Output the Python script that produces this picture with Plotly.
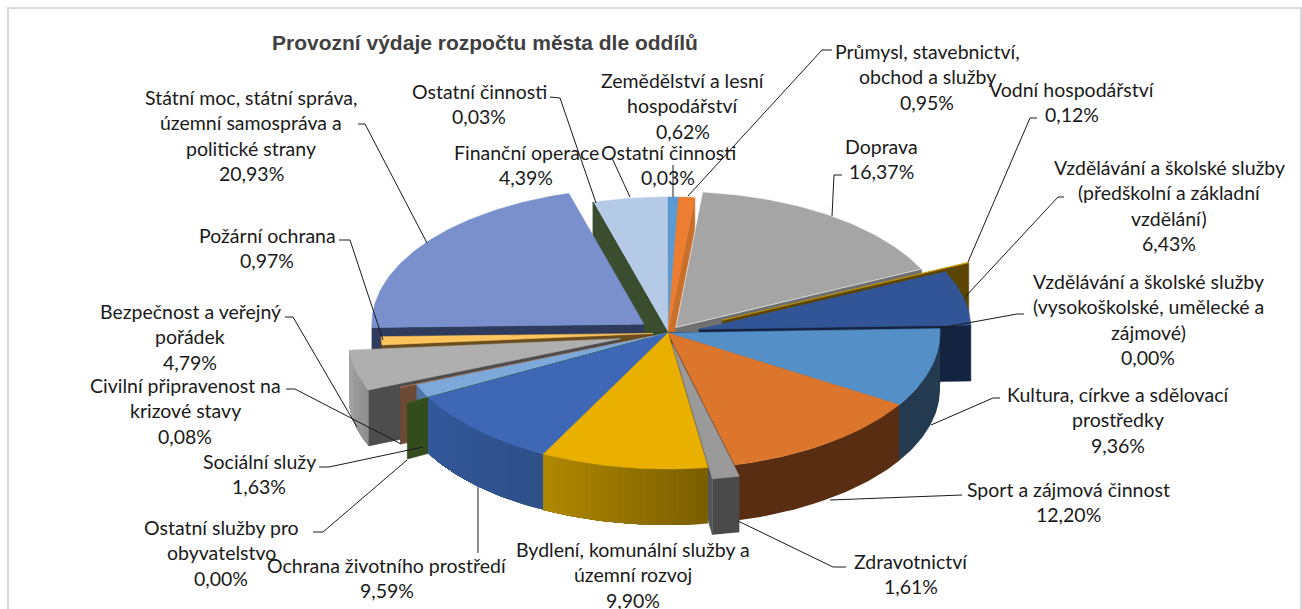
import numpy as np
import plotly.graph_objects as go

TITLE = "Provozní výdaje rozpočtu města dle oddílů"

categories = [
    "Zemědělství a lesní hospodářství", "Průmysl, stavebnictví, obchod a služby", "Doprava",
    "Vodní hospodářství", "Vzdělávání a školské služby (předškolní a základní vzdělání)",
    "Vzdělávání a školské služby (vysokoškolské, umělecké a zájmové)",
    "Kultura, církve a sdělovací prostředky", "Sport a zájmová činnost", "Zdravotnictví",
    "Bydlení, komunální služby a územní rozvoj", "Ochrana životního prostředí",
    "Ostatní služby pro obyvatelstvo", "Sociální služy", "Civilní připravenost na krizové stavy",
    "Bezpečnost a veřejný pořádek", "Požární ochrana",
    "Státní moc, státní správa, územní samospráva a politické strany",
    "Ostatní činnosti A", "Finanční operace", "Ostatní činnosti B",
]
values = [0.62, 0.95, 16.37, 0.12, 6.43, 0.00, 9.36, 12.20, 1.61, 9.90, 9.59,
          0.00, 1.63, 0.08, 4.79, 0.97, 20.93, 0.03, 4.39, 0.03]
pulls = [0, 0, 0.05, 0.22, 0.117, 0, 0, 0, 0.085, 0, 0,
         0.088, 0, 0.063, 0.18, 0.055, 0.11, 0, 0, 0]
top_colors = ["#5B9BD5", "#ED7D31", "#A5A5A5", "#C99A00", "#325597", "#1A2C50", "#5490C7",
              "#DC762C", "#9A9A9A", "#EAB000", "#3E68B6", "#3F6226", "#7CA9DA", "#C0704A",
              "#AFAFAF", "#FFC55C", "#7A90CC", "#3A4D2E", "#B4CAE6", "#8FAADC"]
wall_left = ["#3A6A96", "#A8581F", "#6E6E6E", "#5B4500", "#14233F", "#14233F", "#233A50",
             "#592D12", "#4A4A4A", "#B08800", "#33589A", "#334C1E", "#4E76A5", "#6C4A35",
             "#A6A6A6", "#6B4E1E", "#2F3B5C", "#3A4D2E", "#3A4D2E", "#3A4D2E"]
wall_right = ["#3A6A96", "#A8581F", "#6E6E6E", "#5B4500", "#14233F", "#14233F", "#233A50",
              "#592D12", "#4A4A4A", "#7A5F00", "#2F5088", "#334C1E", "#4E76A5", "#6C4A35",
              "#8E8E8E", "#6B4E1E", "#2F3B5C", "#3A4D2E", "#3A4D2E", "#3A4D2E"]
radial_colors = ["#3A6A96", "#C96F2C", "#707070", "#5B4500", "#14233F", "#14233F", "#233A50",
                 "#592D12", "#555555", "#7A5F00", "#2F5088", "#334C1E", "#4E76A5", "#6C4A35",
                 "#4D4D4D", "#6B4E1E", "#2F3B5C", "#3A4D2E", "#3A4D2E", "#3A4D2E"]
draw_order = [0, 19, 18, 1, 2, 17, 16, 3, 4, 5, 15, 14, 13, 12, 11, 6, 7, 10, 8, 9]

CX, CY, RX, RY, DEPTH = 668, 333, 272, 136, 56

label_lines = [
    ["Státní moc, státní správa,", "územní samospráva a", "politické strany", "20,93%"],
    ["Ostatní činnosti", "0,03%"],
    ["Finanční operace", "4,39%"],
    ["Ostatní činnosti", "0,03%"],
    ["Zemědělství a lesní", "hospodářství", "0,62%"],
    ["Průmysl, stavebnictví,", "obchod a služby", "0,95%"],
    ["Vodní hospodářství", "0,12%"],
    ["Doprava", "16,37%"],
    ["Vzdělávání a školské služby", "(předškolní a základní", "vzdělání)", "6,43%"],
    ["Vzdělávání a školské služby", "(vysokoškolské, umělecké a", "zájmové)", "0,00%"],
    ["Kultura, církve a sdělovací", "prostředky", "9,36%"],
    ["Sport a zájmová činnost", "12,20%"],
    ["Zdravotnictví", "1,61%"],
    ["Bydlení, komunální služby a", "územní rozvoj", "9,90%"],
    ["Ochrana životního prostředí", "9,59%"],
    ["Ostatní služby pro", "obyvatelstvo", "0,00%"],
    ["Sociální služy", "1,63%"],
    ["Civilní připravenost na", "krizové stavy", "0,08%"],
    ["Bezpečnost a veřejný", "pořádek", "4,79%"],
    ["Požární ochrana", "0,97%"],
]
label_x = [251, 479, 526, 668, 683, 927, 1072, 881, 1169, 1148, 1118, 1068, 911, 633, 387, 221, 259, 185, 190, 267]
label_y = [97, 91, 152, 152, 80, 51, 89, 146, 167, 281, 394, 489, 561, 549, 565, 527, 461, 385, 311, 235]
LINE_PITCH = 25.5

leaders = [
    ([358, 365, 427], [124, 124, 243]),
    ([550, 560, 596], [97, 98, 203]),
    ([612, 630], [158, 197]),
    ([673, 673], [165, 197]),
    ([832, 822, 688], [50, 50, 196]),
    ([1037, 1030, 968], [118, 118, 262]),
    ([842, 834, 832], [175, 175, 216]),
    ([1064, 1058, 965], [197, 197, 297]),
    ([1024, 1017, 940], [314, 314, 328]),
    ([1000, 993, 931], [398, 398, 425]),
    ([962, 830], [495, 500]),
    ([846, 833, 738], [567, 567, 521]),
    ([478, 478], [553, 487]),
    ([313, 323, 407], [532, 532, 460]),
    ([319, 329, 423], [467, 467, 447]),
    ([286, 295, 401], [389, 389, 444]),
    ([285, 293, 357], [317, 317, 427]),
    ([339, 350, 383], [240, 240, 340]),
]


def mix(a, b, t):
    ca = [int(a[i:i + 2], 16) for i in (1, 3, 5)]
    cb = [int(b[i:i + 2], 16) for i in (1, 3, 5)]
    return "#%02X%02X%02X" % tuple(round(p + (q - p) * t) for p, q in zip(ca, cb))


def poly(xs, ys, color, line_color=None, width=0.6):
    return go.Scatter(x=list(xs), y=list(ys), mode="lines", fill="toself", fillcolor=color,
                      line=dict(color=line_color or color, width=width),
                      hoverinfo="skip", showlegend=False)


fractions = np.array(values) / sum(values)
edges = np.concatenate([[0], np.cumsum(fractions)]) * 2 * np.pi

fig = go.Figure()
for i in draw_order:
    t1, t2 = edges[i], edges[i + 1]
    mid = (t1 + t2) / 2
    ax = CX + pulls[i] * RX * np.sin(mid)
    ay = CY - pulls[i] * RY * np.cos(mid)
    px = lambda t: ax + RX * np.sin(t)
    py = lambda t: ay - RY * np.cos(t)
    # radial side faces
    if np.sin(t1) < 0:
        fig.add_trace(poly([ax, px(t1), px(t1), ax, ax],
                           [ay, py(t1), py(t1) + DEPTH, ay + DEPTH, ay], radial_colors[i]))
    if np.sin(t2) > 0:
        fig.add_trace(poly([ax, px(t2), px(t2), ax, ax],
                           [ay, py(t2), py(t2) + DEPTH, ay + DEPTH, ay], radial_colors[i]))
    # outer rim, only its front-facing part; each band overlaps the rest so no seams show
    lo, hi = max(t1, np.pi / 2), min(t2, 3 * np.pi / 2)
    if hi > lo:
        bands = 1 if wall_left[i] == wall_right[i] else 30
        for k in range(bands):
            seg = np.linspace(lo + (hi - lo) * k / bands, hi, 40)
            xs = np.concatenate([px(seg), px(seg[::-1]), [px(seg[0])]])
            ys = np.concatenate([py(seg), py(seg[::-1]) + DEPTH, [py(seg[0])]])
            colour = mix(wall_right[i], wall_left[i], k / max(bands - 1, 1))
            fig.add_trace(poly(xs, ys, colour, "rgba(0,0,0,0)", 0))
    # top face
    arc = np.linspace(t1, t2, max(3, int((t2 - t1) * 60)))
    border = "#FFFFFF" if i == 2 else top_colors[i]
    fig.add_trace(poly(np.concatenate([[ax], px(arc), [ax]]),
                       np.concatenate([[ay], py(arc), [ay]]), top_colors[i], border))

for lx, ly in leaders:
    fig.add_trace(go.Scatter(x=lx, y=ly, mode="lines", line=dict(color="#1A1A1A", width=1),
                             hoverinfo="skip", showlegend=False))

for lines, x0, y0 in zip(label_lines, label_x, label_y):
    for n, line in enumerate(lines):
        fig.add_annotation(x=x0, y=y0 + n * LINE_PITCH, text=line, showarrow=False,
                           xanchor="center", yanchor="middle",
                           font=dict(family="Lato", size=19.5, color="#1A1A1A"))

fig.add_annotation(x=485, y=42, text="<b>" + TITLE + "</b>", showarrow=False, xanchor="center",
                   yanchor="middle", font=dict(family="Liberation Sans", size=21, color="#404040"))

fig.add_shape(type="rect", x0=8, y0=8, x1=1301, y1=640, line=dict(color="#D9D9D9", width=2), layer="below")

fig.update_layout(
    width=1302, height=609, margin=dict(l=0, r=0, t=0, b=0),
    paper_bgcolor="#FFFFFF", plot_bgcolor="#FFFFFF", showlegend=False,
    xaxis=dict(range=[0, 1302], visible=False, fixedrange=True),
    yaxis=dict(range=[609, 0], visible=False, fixedrange=True),
)
fig.write_html("out.html", config={"displayModeBar": False},
               post_script="document.body.style.margin='0';document.body.style.overflow='hidden';")
